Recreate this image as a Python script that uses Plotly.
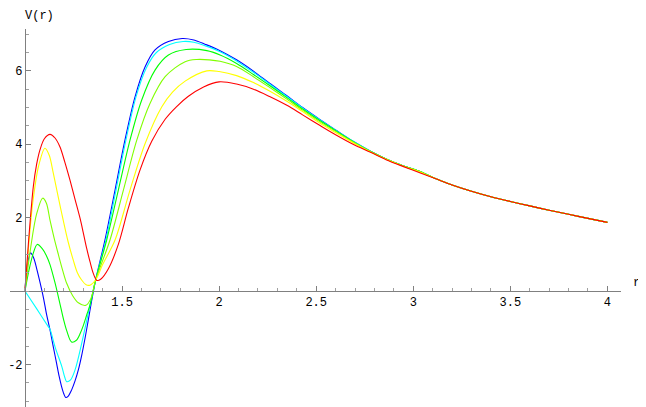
import plotly.graph_objects as go

# curves, one (r, V) list per colour
r_blue = [1.0, 1.012, 1.029, 1.045, 1.06, 1.077, 1.094, 1.11, 1.129, 1.146, 1.163, 1.176, 1.189, 1.2,
          1.21, 1.222, 1.24, 1.258, 1.275, 1.292, 1.309, 1.326, 1.344, 1.364, 1.412, 1.464, 1.515,
          1.567, 1.619, 1.67, 1.739, 1.81, 1.87, 1.93, 2.005, 2.09, 2.177, 2.26, 2.349, 2.43, 2.52,
          2.6, 2.69, 2.78, 2.86, 2.95, 3.04]
v_blue = [0, 0.7, 1.04, 0.9, 0.62, 0.25, -0.15, -0.6, -1.06, -1.52, -1.97, -2.32, -2.61, -2.8,
          -2.9, -2.87, -2.7, -2.45, -2.15, -1.76, -1.3, -0.8, -0.25, 0.3, 1.39, 2.75, 4.11,
          5.29, 6.11, 6.57, 6.8, 6.88, 6.84, 6.72, 6.55, 6.3, 5.99, 5.66, 5.32, 5.0, 4.67,
          4.39, 4.08, 3.81, 3.6, 3.41, 3.24]

r_cyan = [1.0, 1.06, 1.12, 1.129, 1.155, 1.19, 1.205, 1.215, 1.235, 1.258, 1.292, 1.326, 1.364,
          1.417, 1.469, 1.52, 1.572, 1.625, 1.677, 1.745, 1.815, 1.87, 1.93, 2.005, 2.09,
          2.177, 2.26, 2.349, 2.43, 2.52, 2.6, 2.69, 2.78, 2.86, 2.95, 3.04]
v_cyan = [0, -0.48, -0.97, -1.04, -1.52, -2.06, -2.35, -2.47, -2.42, -2.15, -1.43, -0.61, 0.3,
          1.39, 2.75, 4.11, 5.29, 6.08, 6.5, 6.72, 6.8, 6.78, 6.68, 6.52, 6.27,
          5.96, 5.64, 5.3, 4.99, 4.66, 4.38, 4.08, 3.81, 3.6, 3.41, 3.24]

r_green = [1.0, 1.02, 1.04, 1.063, 1.09, 1.11, 1.129, 1.155, 1.18, 1.2, 1.215, 1.24, 1.265, 1.285,
           1.3, 1.32, 1.335, 1.364, 1.421, 1.481, 1.541, 1.601, 1.67, 1.739, 1.83, 1.937, 2.005,
           2.09, 2.177, 2.26, 2.349, 2.43, 2.52, 2.6, 2.69, 2.78, 2.86, 2.95, 3.04]
v_green = [0, 0.55, 0.98, 1.27, 1.15, 0.97, 0.72, 0.22, -0.34, -0.8, -1.08, -1.39, -1.34, -1.15,
           -0.95, -0.62, -0.38, 0.3, 1.39, 2.75, 4.11, 5.2, 6.02, 6.43, 6.58, 6.55, 6.43,
           6.2, 5.9, 5.6, 5.27, 4.96, 4.64, 4.37, 4.07, 3.8, 3.6, 3.41, 3.24]

r_lime = [1.0, 1.03, 1.06, 1.091, 1.11, 1.129, 1.15, 1.172, 1.195, 1.215, 1.245, 1.275, 1.314,
          1.34, 1.364, 1.438, 1.507, 1.576, 1.644, 1.722, 1.825, 1.885, 1.95, 2.005, 2.09,
          2.177, 2.26, 2.349, 2.43, 2.52, 2.6, 2.69, 2.78, 2.86, 2.95, 3.04]
v_lime = [0, 1.2, 2.1, 2.53, 2.4, 1.93, 1.45, 1.0, 0.55, 0.21, -0.12, -0.32, -0.39,
          -0.2, 0.3, 1.39, 2.75, 4.11, 5.11, 5.84, 6.25, 6.31, 6.3, 6.26, 6.12,
          5.84, 5.55, 5.23, 4.93, 4.61, 4.35, 4.06, 3.8, 3.6, 3.41, 3.24]

r_yellow = [1.0, 1.02, 1.04, 1.07, 1.103, 1.125, 1.146, 1.17, 1.197, 1.222, 1.249, 1.27, 1.292,
            1.315, 1.335, 1.364, 1.4, 1.464, 1.541, 1.619, 1.705, 1.76, 1.825, 1.937, 2.0, 2.09,
            2.177, 2.26, 2.349, 2.43, 2.52, 2.6, 2.69, 2.78, 2.86, 2.95, 3.04]
v_yellow = [0, 1.3, 2.4, 3.4, 3.89, 3.7, 3.21, 2.6, 1.93, 1.35, 0.84, 0.5, 0.3,
            0.17, 0.16, 0.3, 0.72, 1.39, 2.75, 4.02, 5.02, 5.42, 5.72, 6.0, 5.98, 5.87,
            5.68, 5.45, 5.17, 4.89, 4.57, 4.32, 4.04, 3.79, 3.59, 3.4, 3.23]

r_red = [1.0, 1.02, 1.043, 1.06, 1.077, 1.1, 1.129, 1.155, 1.18, 1.205, 1.232, 1.258, 1.284, 1.3,
         1.318, 1.335, 1.352, 1.37, 1.39, 1.429, 1.481, 1.532, 1.593, 1.653, 1.722, 1.78, 1.84,
         1.92, 2.0, 2.09, 2.177, 2.26, 2.349, 2.43, 2.52, 2.6, 2.69, 2.78, 2.86, 2.95, 3.04]
v_red = [0, 1.45, 2.84, 3.45, 3.84, 4.15, 4.27, 4.17, 3.93, 3.52, 3.02, 2.5, 1.98, 1.6,
         1.16, 0.8, 0.48, 0.29, 0.32, 0.6, 1.27, 2.25, 3.3, 4.08, 4.68, 5.02, 5.3,
         5.56, 5.7, 5.64, 5.5, 5.3, 5.06, 4.8, 4.51, 4.26, 4.0, 3.78, 3.58, 3.39, 3.21]

# shared tail where all curves run together
r_tail = [3.12, 3.2, 3.3, 3.4, 3.5, 3.6, 3.7, 3.8, 3.9, 4.0]
v_tail = [3.05, 2.89, 2.72, 2.57, 2.44, 2.32, 2.2, 2.09, 1.98, 1.87]

series = [
    ("blue", r_blue, v_blue, "rgb(0,0,255)"),
    ("cyan", r_cyan, v_cyan, "rgb(0,255,255)"),
    ("green", r_green, v_green, "rgb(0,255,0)"),
    ("lime", r_lime, v_lime, "rgb(128,255,0)"),
    ("yellow", r_yellow, v_yellow, "rgb(255,255,0)"),
    ("red", r_red, v_red, "rgb(255,0,0)"),
]

fig = go.Figure()
for name, rs, vs, col in series:
    fig.add_trace(go.Scatter(
        x=rs + r_tail, y=vs + v_tail, mode="lines", name=name,
        line=dict(color=col, width=1.1, shape="spline", smoothing=0.9),
        hoverinfo="skip",
    ))

axis_font = dict(family="Liberation Mono, DejaVu Sans Mono, monospace", size=12, color="black")

# the page body adds an 8px offset, so margins are shifted to keep the plot area in place
fig.update_layout(
    width=646, height=407,
    margin=dict(l=2, r=33, t=21, b=8),
    paper_bgcolor="white", plot_bgcolor="white",
    showlegend=False,
    xaxis=dict(
        range=[0.923, 4.07], anchor="free", position=0.307, automargin=False,
        tickvals=[1.5, 2, 2.5, 3, 3.5, 4], ticktext=["1.5", "2", "2.5", "3", "3.5", "4"],
        ticks="inside", ticklen=5, tickcolor="#808080", tickwidth=1,
        minor=dict(dtick=0.1, tick0=1, ticks="inside", ticklen=3, tickcolor="#a0a0a0", showgrid=False),
        showline=True, linecolor="#808080", linewidth=1,
        showgrid=False, zeroline=False, tickfont=axis_font,
    ),
    yaxis=dict(
        range=[-3.16, 7.14], anchor="free", position=0.0245, automargin=False,
        tickvals=[-2, 2, 4, 6], ticktext=["-2", "2", "4", "6"],
        ticks="inside", ticklen=5, tickcolor="#808080", tickwidth=1,
        minor=dict(dtick=0.5, tick0=0, ticks="inside", ticklen=3, tickcolor="#a0a0a0", showgrid=False),
        showline=True, linecolor="#808080", linewidth=1,
        showgrid=False, zeroline=False, tickfont=axis_font,
    ),
    annotations=[
        dict(text="V(r)", x=0.0213, y=1.058, xref="paper", yref="paper",
             showarrow=False, font=axis_font),
        dict(text="r", x=1.034, y=0.304, xref="paper", yref="paper",
             showarrow=False, font=axis_font),
    ],
)

fig.write_html("out.html")
